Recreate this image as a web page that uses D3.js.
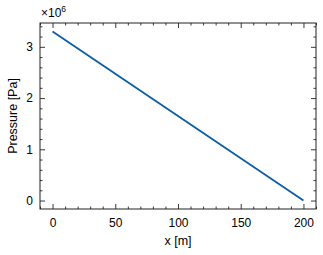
<!DOCTYPE html>
<html><head><meta charset="utf-8">
<script src="https://cdn.jsdelivr.net/npm/d3@7"></script>
<style>body{margin:0;background:#fff}svg{display:block}text{font-family:"Liberation Sans",Arial,sans-serif;fill:#000}</style>
</head><body>
<script>
const xData = [0, 200];
const yData = [3.3e6, 0];
const xTicks = [0, 50, 100, 150, 200];
const yTicks = [0, 1e6, 2e6, 3e6];
const xLabel = "x [m]";
const yLabel = "Pressure [Pa]";

const W = 323, H = 255;
const m = {l: 40, r: 7, t: 23, b: 46};
const svg = d3.select("body").append("svg").attr("width", W).attr("height", H);
const x = d3.scaleLinear().domain([-10, 210]).range([m.l, W - m.r]);
const y = d3.scaleLinear().domain([-0.165e6, 3.465e6]).range([H - m.b, m.t]);
const iw = W - m.r - m.l, ih = H - m.b - m.t;

const xMinor = d3.range(-10, 211, 10).filter(v => v % 50 !== 0);
const yMinor = d3.range(-0.0e6, 3.41e6, 0.2e6).filter(v => Math.round(v/1e5) % 10 !== 0);

function mk(axisFn, scale, tr, major, minor, fmt, pad) {
  const g = svg.append("g").attr("transform", tr);
  g.call(axisFn(scale).tickValues(major).tickSizeInner(-5).tickSizeOuter(0).tickPadding(pad).tickFormat(fmt));
  g.select(".domain").remove();
  const g2 = svg.append("g").attr("transform", tr);
  g2.call(axisFn(scale).tickValues(minor).tickSizeInner(-2.5).tickSizeOuter(0).tickFormat(""));
  g2.select(".domain").remove();
  [g, g2].forEach(gg => {
    gg.selectAll("line").attr("stroke", "#222").attr("stroke-width", 0.9);
    gg.selectAll("text").attr("font-size", 12).attr("fill", "#000")
      .attr("font-family", '"Liberation Sans",Arial,sans-serif');
  });
}
mk(d3.axisBottom, x, `translate(0,${H - m.b})`, xTicks, xMinor, d => d, 9);
mk(d3.axisTop, x, `translate(0,${m.t})`, xTicks, xMinor, "", 6);
mk(d3.axisLeft, y, `translate(${m.l},0)`, yTicks, yMinor, d => d / 1e6, 7);
mk(d3.axisRight, y, `translate(${W - m.r},0)`, yTicks, yMinor, "", 6);

svg.append("rect").attr("x", m.l).attr("y", m.t).attr("width", iw).attr("height", ih)
  .attr("fill", "none").attr("stroke", "#222").attr("stroke-width", 1);

const line = d3.line().x((d, i) => x(xData[i])).y(d => y(d));
svg.append("path").datum(yData).attr("d", line).attr("fill", "none")
  .attr("stroke", "#0C5DA5").attr("stroke-width", 1.8);

svg.append("text").attr("x", x(100)).attr("y", 245).attr("text-anchor", "middle").attr("font-size", 12.5).text(xLabel);
svg.append("text").attr("transform", `translate(17,${m.t + ih / 2}) rotate(-90)`).attr("text-anchor", "middle").attr("font-size", 12.5).text(yLabel);

const t = svg.append("text").attr("x", 41).attr("y", 17).attr("font-size", 12);
t.append("tspan").text("×10");
t.append("tspan").attr("dy", -5).attr("font-size", 8.5).text("6");
</script>
</body></html>
